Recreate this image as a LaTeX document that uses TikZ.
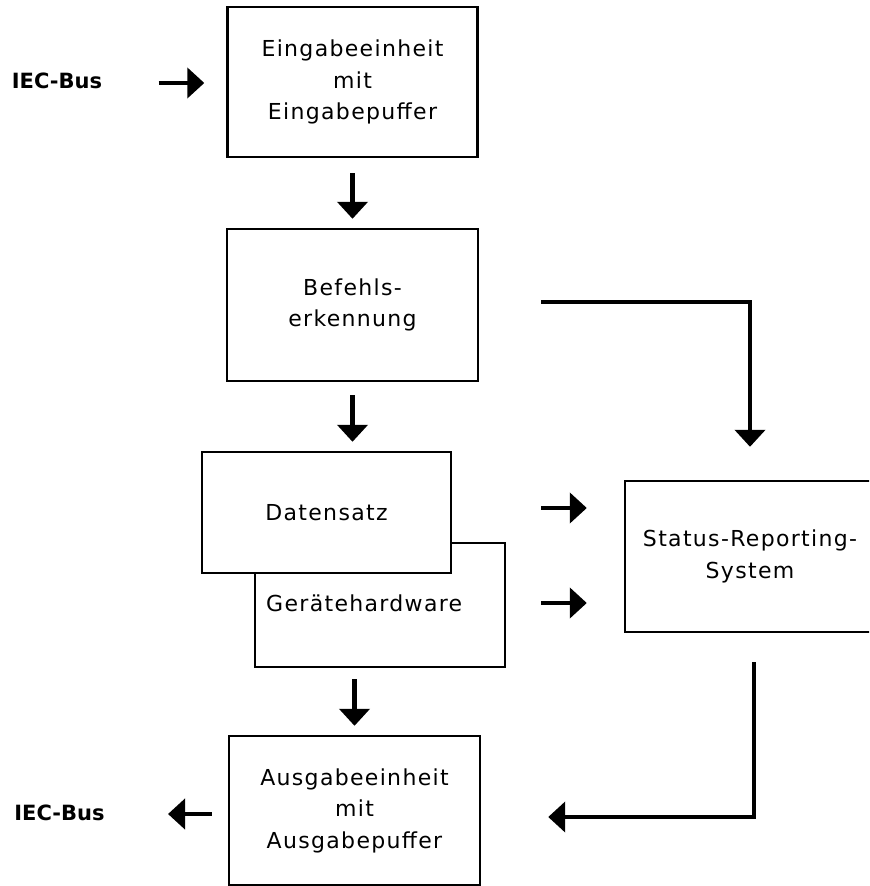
\documentclass[tikz,border=0pt]{standalone}
\usepackage{fontspec}
\setmainfont{DejaVu Sans}
\newfontfamily\boxfont[LetterSpace=6]{DejaVu Sans}
\usetikzlibrary{arrows.meta,calc}

\tikzset{
  block/.style={draw, line width=1.2pt, inner sep=0pt, align=center,
    font=\boxfont\fontsize{11pt}{15.75pt}\selectfont},
  lbl/.style={inner sep=0pt, font=\boxfont\fontsize{11pt}{15.75pt}\selectfont},
  bus/.style={inner sep=0pt, font=\bfseries\fontsize{10.5pt}{12pt}\selectfont},
  flow/.style={line width=2.4pt, -{Triangle[length=8.5pt, width=15pt]}}
}

\begin{document}
\begin{tikzpicture}[x=0.5pt, y=-0.5pt]
\useasboundingbox (0,0) rectangle (869,886);
\clip (0,0) rectangle (869,886);
\node[block, minimum width=125pt, minimum height=75pt] (ein) at (352.5,82) {Eingabeeinheit\\mit\\Eingabepuffer};
\node[block, minimum width=125.5pt, minimum height=76pt] (bef) at (352.5,305) {Befehls-\\erkennung};
\node[block, minimum width=125pt, minimum height=62pt] (ger) at (380,605) {};
\node[lbl, anchor=west] (gerlbl) at ($(ger.west)+(12,-2)$) {Gerätehardware};
\node[block, fill=white, minimum width=124.5pt, minimum height=60.5pt] (dat) at (326.5,512.5) {Datensatz};
\node[block, minimum width=125pt, minimum height=75.5pt] (stat) at (750,556.5) {Status-Reporting-\\System};
\node[block, minimum width=125.5pt, minimum height=74.5pt] (aus) at (354.5,810.5) {Ausgabeeinheit\\mit\\Ausgabepuffer};
\node[bus] (busin) at (57,81) {IEC-Bus};
\node[bus] (busout) at (59.5,813) {IEC-Bus};
\draw[flow] ($(busin.east)+(56,2)$) -- ($(ein.west)+(-22,1)$);
\draw[flow] ($(ein.south)+(0,15)$) -- ($(bef.north)+(0,-9)$);
\draw[flow] ($(bef.south)+(0,13)$) -- ($(bef.south |- dat.north)+(0,-9)$);
\draw[flow] ($(bef.east)+(62,-3)$) -| ($(stat.north)+(0,-33)$);
\draw[flow] ($(dat.east)+(89,-4.5)$) -- ($(stat.west)+(-37,-48.5)$);
\draw[flow] ($(ger.east)+(35,-2)$) -- ($(stat.west)+(-37,46.5)$);
\draw[flow] ($(aus.north |- ger.south)+(0,11)$) -- ($(aus.north)+(0,-9)$);
\draw[flow] ($(stat.south)+(4,29)$) |- ($(aus.east)+(67,6.5)$);
\draw[flow] ($(aus.west)+(-16,3.5)$) -- ($(busout.east)+(63,1)$);
\end{tikzpicture}
\end{document}
